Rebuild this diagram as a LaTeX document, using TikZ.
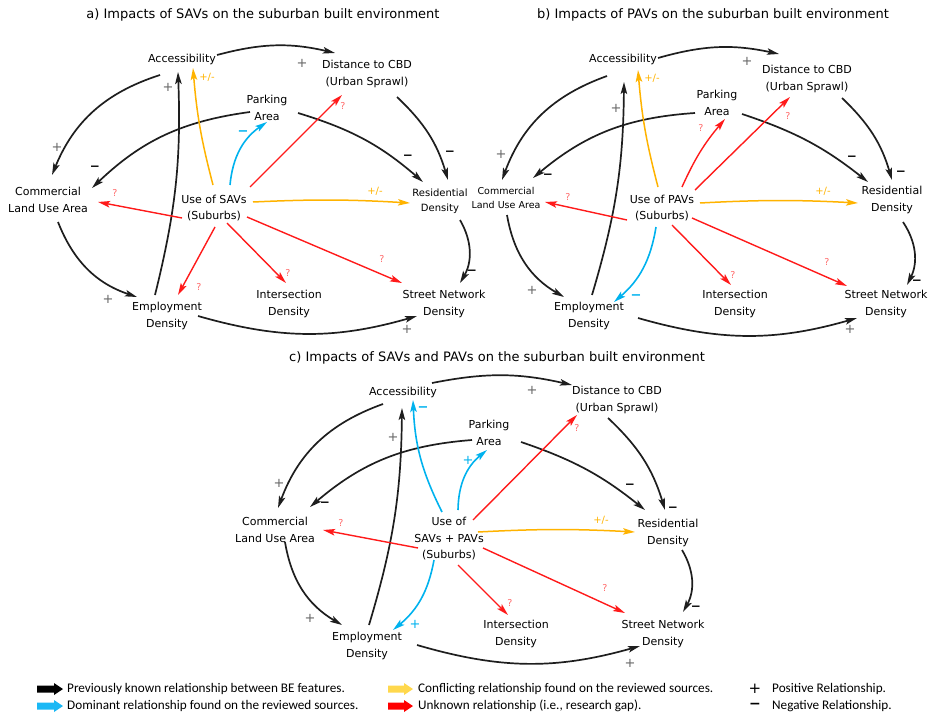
\documentclass[tikz,border=0pt]{standalone}
\usepackage{fontspec}
\setmainfont{DejaVu Sans}
\newfontfamily\legfont{Carlito}
\usetikzlibrary{arrows.meta,calc}
\definecolor{ylw}{HTML}{FFB300}
\definecolor{blu}{HTML}{00B2EE}
\definecolor{rdd}{HTML}{FF1A1A}
\definecolor{qm}{HTML}{FF6B6B}
\definecolor{lgylw}{HTML}{FFD84D}
\definecolor{lgblu}{HTML}{1AB8F5}
\definecolor{dk}{HTML}{1E1E1E}
\begin{document}
\begin{tikzpicture}[x=1pt,y=-1pt,
  box/.style={font=\fontsize{11}{16.5}\selectfont, align=center, inner sep=0pt},
  ttl/.style={font=\fontsize{13}{15}\selectfont, inner sep=0pt},
  tip/.style={-{Stealth[length=12pt,width=6.5pt,inset=2.5pt]}},
  bk/.style={tip, draw=dk, line width=1.7pt},
  yw/.style={tip, draw=ylw, line width=1.5pt},
  bl/.style={tip, draw=blu, line width=1.6pt},
  rd/.style={tip, draw=rdd, line width=1.4pt},
  pl/.style={text=black!60, font=\fontsize{13}{13}\selectfont, inner sep=0pt},
  mn/.style={font=\bfseries\fontsize{12}{12}\selectfont, inner sep=0pt},
  bm/.style={text=blu, font=\bfseries\fontsize{13}{13}\selectfont, inner sep=0pt},
  bp/.style={text=blu, font=\fontsize{13}{13}\selectfont, inner sep=0pt},
  pm/.style={text=ylw, font=\fontsize{10}{10}\selectfont, inner sep=0pt},
  qq/.style={text=qm, font=\fontsize{9.5}{9.5}\selectfont, inner sep=0pt},
  leg/.style={font=\legfont\fontsize{13.2}{14}\selectfont, anchor=west, inner sep=0pt}
]
\useasboundingbox (0,0) rectangle (931,714);

% ---------------- Panel a ----------------
\node[ttl] (aT) at (263,15) {a) Impacts of SAVs on the suburban built environment};
\node[box] (aAcc) at (182,59) {Accessibility};
\node[box] (aDist) at (367,74) {Distance to CBD\\(Urban Sprawl)};
\node[box] (aPark) at (267,108) {Parking\\Area};
\node[box] (aCom) at (48,200) {Commercial\\Land Use Area};
\node[box] (aUse) at (214,208) {Use of SAVs\\(Suburbs)};
\node[box,font=\fontsize{10}{15}\selectfont] (aRes) at (440,201) {Residential\\Density};
\node[box] (aEmp) at (167,316) {Employment\\Density};
\node[box] (aInt) at (289,304) {Intersection\\Density};
\node[box] (aStr) at (444,304) {Street Network\\Density};

\draw[bk] ([shift={(35,-4)}]aAcc.center) to[bend left=14] ([shift={(-32,-21)}]aDist.center);
\draw[bk] ([shift={(-22,16)}]aAcc.center) to[bend right=25] ([shift={(4,-25)}]aCom.center);
\draw[bk] ([shift={(-17,4)}]aPark.center) to[bend right=18] ([shift={(44,-12)}]aCom.center);
\draw[bk] ([shift={(31,5)}]aPark.center) to[bend left=12] ([shift={(-17,-19)}]aRes.center);
\draw[bk] ([shift={(30,23)}]aDist.center) to[bend left=15] ([shift={(8,-21)}]aRes.center);
\draw[bk] ([shift={(20,19)}]aRes.center) to[bend left=30] ([shift={(16,-21)}]aStr.center);
\draw[bk] ([shift={(10,22)}]aCom.center) to[bend right=25] ([shift={(-30,-19)}]aEmp.center);
\draw[bk] ([shift={(-12,-21)}]aEmp.center) to[bend right=8] ([shift={(-4,13)}]aAcc.center);
\draw[bk] ([shift={(31,0)}]aEmp.center) to[bend right=16] ([shift={(-27,12)}]aStr.center);

\draw[yw] ([shift={(-1,-23)}]aUse.center) to[bend left=5] ([shift={(11,9)}]aAcc.center);
\draw[bl] ([shift={(16,-23)}]aUse.center) to[bend left=25] ([shift={(0,14)}]aPark.center);
\draw[rd] ([shift={(36,-21)}]aUse.center) -- ([shift={(-25,21)}]aDist.center);
\draw[yw] ([shift={(39,-6)}]aUse.center) to[bend left=3] ([shift={(-30,2)}]aRes.center);
\draw[rd] ([shift={(-32,10)}]aUse.center) -- ([shift={(50,2)}]aCom.center);
\draw[rd] ([shift={(1,19)}]aUse.center) -- ([shift={(11,-21)}]aEmp.center);
\draw[rd] ([shift={(13,15)}]aUse.center) -- ([shift={(-3,-21)}]aInt.center);
\draw[rd] ([shift={(33,9)}]aUse.center) -- ([shift={(-42,-21)}]aStr.center);

\node[pl] (aP1) at (302,63) {+};
\node[pl] (aP2) at (57,147) {+};
\node[mn] (aM1) at (95,168) {−};
\node[mn] (aM2) at (408,157) {−};
\node[mn] (aM3) at (450,153) {−};
\node[mn] (aM4) at (472,272) {−};
\node[pl] (aP3) at (108,299) {+};
\node[pl] (aP4) at (168,87) {+};
\node[pl] (aP5) at (407,329) {+};
\node[pm] (aY1) at (207,77) {+/-};
\node[bm] (aB1) at (243,133) {−};
\node[qq] (aQ1) at (343,106) {?};
\node[pm] (aY2) at (375,191) {+/-};
\node[qq] (aQ2) at (115,193) {?};
\node[qq] (aQ3) at (199,287) {?};
\node[qq] (aQ4) at (288,273) {?};
\node[qq] (aQ5) at (382,259) {?};

% ---------------- Panel b ----------------
\node[ttl] (bT) at (713,15) {b) Impacts of PAVs on the suburban built environment};
\node[box] (bAcc) at (623,59) {Accessibility};
\node[box] (bDist) at (807,79) {Distance to CBD\\(Urban Sprawl)};
\node[box] (bPark) at (717,103) {Parking\\Area};
\node[box,font=\fontsize{9.5}{14.5}\selectfont] (bCom) at (506,198) {Commercial\\Land Use Area};
\node[box] (bUse) at (662,208) {Use of PAVs\\(Suburbs)};
\node[box] (bRes) at (892,200) {Residential\\Density};
\node[box] (bEmp) at (589,316) {Employment\\Density};
\node[box] (bInt) at (735,304) {Intersection\\Density};
\node[box] (bStr) at (886,304) {Street Network\\Density};

\draw[bk] ([shift={(35,-1)}]bAcc.center) to[bend left=14] ([shift={(-28,-25)}]bDist.center);
\draw[bk] ([shift={(-16,17)}]bAcc.center) to[bend right=25] ([shift={(-4,-18)}]bCom.center);
\draw[bk] ([shift={(-22,10)}]bPark.center) to[bend right=18] ([shift={(27,-20)}]bCom.center);
\draw[bk] ([shift={(25,11)}]bPark.center) to[bend left=10] ([shift={(-24,-18)}]bRes.center);
\draw[bk] ([shift={(35,19)}]bDist.center) to[bend left=15] ([shift={(0,-20)}]bRes.center);
\draw[bk] ([shift={(11,22)}]bRes.center) to[bend left=30] ([shift={(21,-19)}]bStr.center);
\draw[bk] ([shift={(1,17)}]bCom.center) to[bend right=25] ([shift={(-25,-19)}]bEmp.center);
\draw[bk] ([shift={(3,-21)}]bEmp.center) to[bend right=8] ([shift={(1,23)}]bAcc.center);
\draw[bk] ([shift={(49,2)}]bEmp.center) to[bend right=16] ([shift={(-29,14)}]bStr.center);

\draw[yw] ([shift={(-4,-21)}]bUse.center) to[bend left=5] ([shift={(15,11)}]bAcc.center);
\draw[rd] ([shift={(20,-21)}]bUse.center) to[bend left=8] ([shift={(8,16)}]bPark.center);
\draw[rd] ([shift={(33,-18)}]bUse.center) -- ([shift={(-17,18)}]bDist.center);
\draw[yw] ([shift={(38,-5)}]bUse.center) to[bend left=3] ([shift={(-34,3)}]bRes.center);
\draw[rd] ([shift={(-35,12)}]bUse.center) -- ([shift={(39,4)}]bCom.center);
\draw[bl] ([shift={(-6,19)}]bUse.center) to[bend left=20] ([shift={(25,-14)}]bEmp.center);
\draw[rd] ([shift={(10,17)}]bUse.center) -- ([shift={(-4,-19)}]bInt.center);
\draw[rd] ([shift={(30,10)}]bUse.center) -- ([shift={(-39,-18)}]bStr.center);

\node[pl] (bP1) at (747,61) {+};
\node[pl] (bP2) at (501,154) {+};
\node[mn] (bM1) at (548,176) {−};
\node[mn] (bM2) at (852,158) {−};
\node[mn] (bM3) at (901,173) {−};
\node[mn] (bM4) at (917,282) {−};
\node[pl] (bP3) at (532,290) {+};
\node[pl] (bP4) at (616,108) {+};
\node[pl] (bP5) at (850,329) {+};
\node[pm] (bY1) at (652,78) {+/-};
\node[qq] (bQ1) at (701,128) {?};
\node[qq] (bQ2) at (788,116) {?};
\node[pm] (bY2) at (823,191) {+/-};
\node[qq] (bQ3) at (568,197) {?};
\node[bm] (bB1) at (636,297) {−};
\node[qq] (bQ4) at (733,275) {?};
\node[qq] (bQ5) at (827,262) {?};

% ---------------- Panel c ----------------
\node[ttl] (cT) at (497,358) {c) Impacts of SAVs and PAVs on the suburban built environment};
\node[box] (cAcc) at (403,392) {Accessibility};
\node[box] (cDist) at (617,400) {Distance to CBD\\(Urban Sprawl)};
\node[box] (cPark) at (489,433) {Parking\\Area};
\node[box] (cCom) at (275,530) {Commercial\\Land Use Area};
\node[box] (cUse) at (449,539) {Use of\\SAVs + PAVs\\(Suburbs)};
\node[box] (cRes) at (668,533) {Residential\\Density};
\node[box] (cEmp) at (367,646) {Employment\\Density};
\node[box] (cInt) at (516,634) {Intersection\\Density};
\node[box] (cStr) at (663,634) {Street Network\\Density};

\draw[bk] ([shift={(29,-9)}]cAcc.center) to[bend left=12] ([shift={(-45,-15)}]cDist.center);
\draw[bk] ([shift={(-20,12)}]cAcc.center) to[bend right=25] ([shift={(3,-22)}]cCom.center);
\draw[bk] ([shift={(-17,7)}]cPark.center) to[bend right=18] ([shift={(35,-23)}]cCom.center);
\draw[bk] ([shift={(32,9)}]cPark.center) to[bend left=10] ([shift={(-23,-23)}]cRes.center);
\draw[bk] ([shift={(-9,18)}]cDist.center) to[bend left=15] ([shift={(-3,-23)}]cRes.center);
\draw[bk] ([shift={(14,17)}]cRes.center) to[bend left=30] ([shift={(20,-22)}]cStr.center);
\draw[bk] ([shift={(10,12)}]cCom.center) to[bend right=25] ([shift={(-25,-21)}]cEmp.center);
\draw[bk] ([shift={(2,-21)}]cEmp.center) to[bend right=8] ([shift={(-1,16)}]cAcc.center);
\draw[bk] ([shift={(50,-1)}]cEmp.center) to[bend right=16] ([shift={(-23,12)}]cStr.center);

\draw[bl] ([shift={(-7,-27)}]cUse.center) to[bend left=12] ([shift={(10,8)}]cAcc.center);
\draw[bl] ([shift={(9,-29)}]cUse.center) to[bend left=25] ([shift={(-2,17)}]cPark.center);
\draw[rd] ([shift={(24,-19)}]cUse.center) -- ([shift={(-40,15)}]cDist.center);
\draw[yw] ([shift={(29,-7)}]cUse.center) to[bend left=3] ([shift={(-33,-1)}]cRes.center);
\draw[rd] ([shift={(-31,9)}]cUse.center) -- ([shift={(48,0)}]cCom.center);
\draw[bl] ([shift={(-15,21)}]cUse.center) to[bend left=20] ([shift={(26,-16)}]cEmp.center);
\draw[rd] ([shift={(9,26)}]cUse.center) -- ([shift={(-8,-19)}]cInt.center);
\draw[rd] ([shift={(34,9)}]cUse.center) -- ([shift={(-38,-21)}]cStr.center);

\node[pl] (cP1) at (532,390) {+};
\node[pl] (cP2) at (279,483) {+};
\node[mn] (cM1) at (325,504) {−};
\node[mn] (cM2) at (630,486) {−};
\node[mn] (cM3) at (673,509) {−};
\node[mn] (cM4) at (696,608) {−};
\node[pl] (cP3) at (310,618) {+};
\node[pl] (cP4) at (393,437) {+};
\node[pl] (cP5) at (630,663) {+};
\node[bm] (cB1) at (423,409) {−};
\node[bp] (cB2) at (468,460) {+};
\node[qq] (cQ1) at (577,428) {?};
\node[pm] (cY1) at (601,520) {+/-};
\node[qq] (cQ2) at (341,523) {?};
\node[bp] (cB3) at (415,624) {+};
\node[qq] (cQ3) at (510,603) {?};
\node[qq] (cQ4) at (605,588) {?};

% ---------------- Legend ----------------
\fill[black] (37,685.5) -- (54,685.5) -- (54,683) -- (63,689) -- (54,695) -- (54,692.5) -- (37,692.5) -- cycle;
\fill[lgblu] (37,702.5) -- (54,702.5) -- (54,700) -- (63,706) -- (54,712) -- (54,709.5) -- (37,709.5) -- cycle;
\fill[lgylw] (388,685.5) -- (404,685.5) -- (404,683) -- (413,689) -- (404,695) -- (404,692.5) -- (388,692.5) -- cycle;
\fill[red] (388,702.5) -- (404,702.5) -- (404,700) -- (413,706) -- (404,712) -- (404,709.5) -- (388,709.5) -- cycle;
\node[leg] (l1) at (67,689) {Previously known relationship between BE features.};
\node[leg] (l2) at (67,706) {Dominant relationship found on the reviewed sources.};
\node[leg] (l3) at (418,689) {Conflicting relationship found on the reviewed sources.};
\node[leg] (l4) at (418,706) {Unknown relationship (i.e., research gap).};
\node[font=\fontsize{15}{15}\selectfont, inner sep=0pt] (l5) at (755,689) {+};
\node[font=\bfseries\fontsize{14}{14}\selectfont, inner sep=0pt] (l6) at (755,706) {−};
\node[leg] (l7) at (772,689) {Positive Relationship.};
\node[leg] (l8) at (772,706) {Negative Relationship.};
\end{tikzpicture}
\end{document}
